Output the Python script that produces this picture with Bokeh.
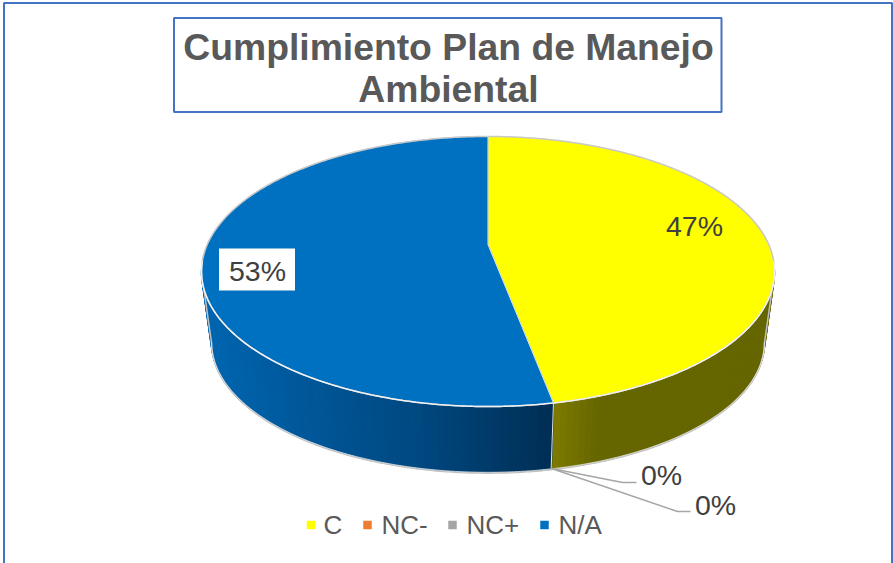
import numpy as np
from bokeh.plotting import figure
from bokeh.core.properties import value
from bokeh.embed import file_html
from bokeh.resources import INLINE

# ---- data
title_lines = ["Cumplimiento Plan de Manejo", "Ambiental"]
categories = ["C", "NC-", "NC+", "N/A"]
percents = [47, 0, 0, 53]
colors = ["#FFFF00", "#ED7D31", "#A5A5A5", "#0070C0"]

W, H = 893, 563
p = figure(width=W, height=H, x_range=(1, W + 1), y_range=(H + 1, 1),
           output_backend="svg", toolbar_location=None, min_border=0,
           outline_line_color=None)
p.axis.visible = False
p.grid.visible = False
p.background_fill_color = "white"

FONT = value("Liberation Sans")
BORDER = "#4472C4"

# ---- projective mapping of the pie disc
CX, Y_TOP, Y_BOT, A, B, K, S = 488.5, 245.0, 316.5, 280.7, 129.6, 0.2, 0.965


def top_pt(th):
    u, v = np.sin(th), -np.cos(th)
    d = 1 - K * v
    return CX + A * u / d, Y_TOP + B * v / d


def bot_pt(th):
    u, v = np.sin(th), -np.cos(th)
    d = 1 - K * v
    return CX + S * A * u / d, Y_BOT + S * B * v / d


def wall_colour(i, x):
    if colors[i] == "#0070C0":
        g = np.interp(x, [205, 300, 420, 552], [0x66, 0x58, 0x48, 0x2F])
        b = np.interp(x, [205, 300, 420, 552], [0xB0, 0x9A, 0x80, 0x55])
        return "#%02x%02x%02x" % (0, int(g), int(b))
    r = np.interp(x, [552, 600, 780], [0x80, 0x66, 0x66])
    g = np.interp(x, [552, 600, 780], [0x7C, 0x66, 0x66])
    return "#%02x%02x%02x" % (int(r), int(g), 0)


# ---- slices from the values
total = sum(percents)
bounds = 2 * np.pi * np.cumsum([0] + percents) / total

# side wall, one thin strip at a time (front half only, up to the widest points)
TH_W = np.pi - np.arccos(K)          # angle of the widest point, measured from the top
for i in range(len(categories)):
    if percents[i] == 0:
        continue
    ths = np.linspace(bounds[i], bounds[i + 1], 150)
    xs, ys, cs = [], [], []
    for a, b in zip(ths[:-1], ths[1:]):
        if np.cos(a) > np.cos(TH_W) and np.cos(b) > np.cos(TH_W):
            continue
        xs.append([top_pt(a)[0], top_pt(b)[0], bot_pt(b)[0], bot_pt(a)[0]])
        ys.append([top_pt(a)[1], top_pt(b)[1], bot_pt(b)[1], bot_pt(a)[1]])
        cs.append(wall_colour(i, 0.5 * (top_pt(a)[0] + top_pt(b)[0])))
    p.patches(xs, ys, fill_color=cs, line_color=cs, line_width=1.6)

# bottom rim, with the two straight silhouette edges
th_front = np.linspace(2 * np.pi - TH_W, TH_W, 300) % (2 * np.pi)
bx, by = bot_pt(th_front)
rx = np.r_[top_pt(2 * np.pi - TH_W)[0], bx, top_pt(TH_W)[0]]
ry = np.r_[top_pt(2 * np.pi - TH_W)[1], by, top_pt(TH_W)[1]]
p.line(rx, ry + 0.8, line_color="#BFBFBF", line_width=1.5)
p.line(bx, by, line_color="#EDEDED", line_width=0.8)

# wall seam at the slice boundary
seam = bounds[1]
p.line([top_pt(seam)[0], bot_pt(seam)[0]], [top_pt(seam)[1], bot_pt(seam)[1]],
       line_color="#E4E4E4", line_width=1)

# top face
for i in range(len(categories)):
    if percents[i] == 0:
        continue
    ths = np.linspace(bounds[i], bounds[i + 1], 240)
    x, y = top_pt(ths)
    p.patch(np.r_[CX, x], np.r_[Y_TOP, y], fill_color=colors[i], line_color=colors[i], line_width=0.5)

# rim of top face
th_all = np.linspace(0, 2 * np.pi, 500)
x, y = top_pt(th_all)
p.line(x, y, line_color="#C9C9C9", line_width=1.5)
x, y = top_pt(np.linspace(np.pi * 0.54, np.pi * 1.46, 300))
p.line(x, y, line_color="#F2F2F2", line_width=1.5)

# slice boundaries on the top face
for t in (bounds[0], bounds[1]):
    px_, py_ = top_pt(t)
    p.line([CX, px_], [Y_TOP, py_], line_color="#E8E8E8", line_width=1)

# ---- leader lines of the zero labels
p.line([552, 623, 637], [469, 483, 483], line_color="#A6A6A6", line_width=1.5)
p.line([552, 678, 691], [469, 512, 512], line_color="#A6A6A6", line_width=1.5)

# ---- data labels
LBL = "#404040"
p.rect([257.5], [270], width=[76], height=[42], fill_color="white", line_color=None)
labels = ["%d%%" % v for v in percents]
p.text([695, 662, 716, 258], [226, 475, 505, 271], text=labels, text_font=FONT,
       text_font_size="28.5px", text_color=LBL, text_align="center", text_baseline="middle")

# ---- legend
p.rect([311.5, 368, 453, 545], [525.5] * 4, width=[8.5] * 4, height=[8.5] * 4,
       fill_color=colors, line_color=None)
p.text([324, 382, 467, 559], [525.5] * 4, text=categories, text_font=FONT,
       text_font_size="26px", text_color="#595959", text_align="left", text_baseline="middle")

# ---- title box
p.quad(left=[174.5], right=[722], top=[18.5], bottom=[112.5], fill_color="white",
       line_color=BORDER, line_width=2)
p.text([449, 449], [47, 89], text=title_lines, text_font=FONT, text_font_style="bold",
       text_font_size="37.3px", text_color="#595959", text_align="center", text_baseline="middle")

# ---- outer frame
p.quad(left=[4.5], right=[892.5], top=[3.5], bottom=[571], fill_color=None,
       line_color=BORDER, line_width=2)

open("out.html", "w").write(file_html(p, INLINE))
